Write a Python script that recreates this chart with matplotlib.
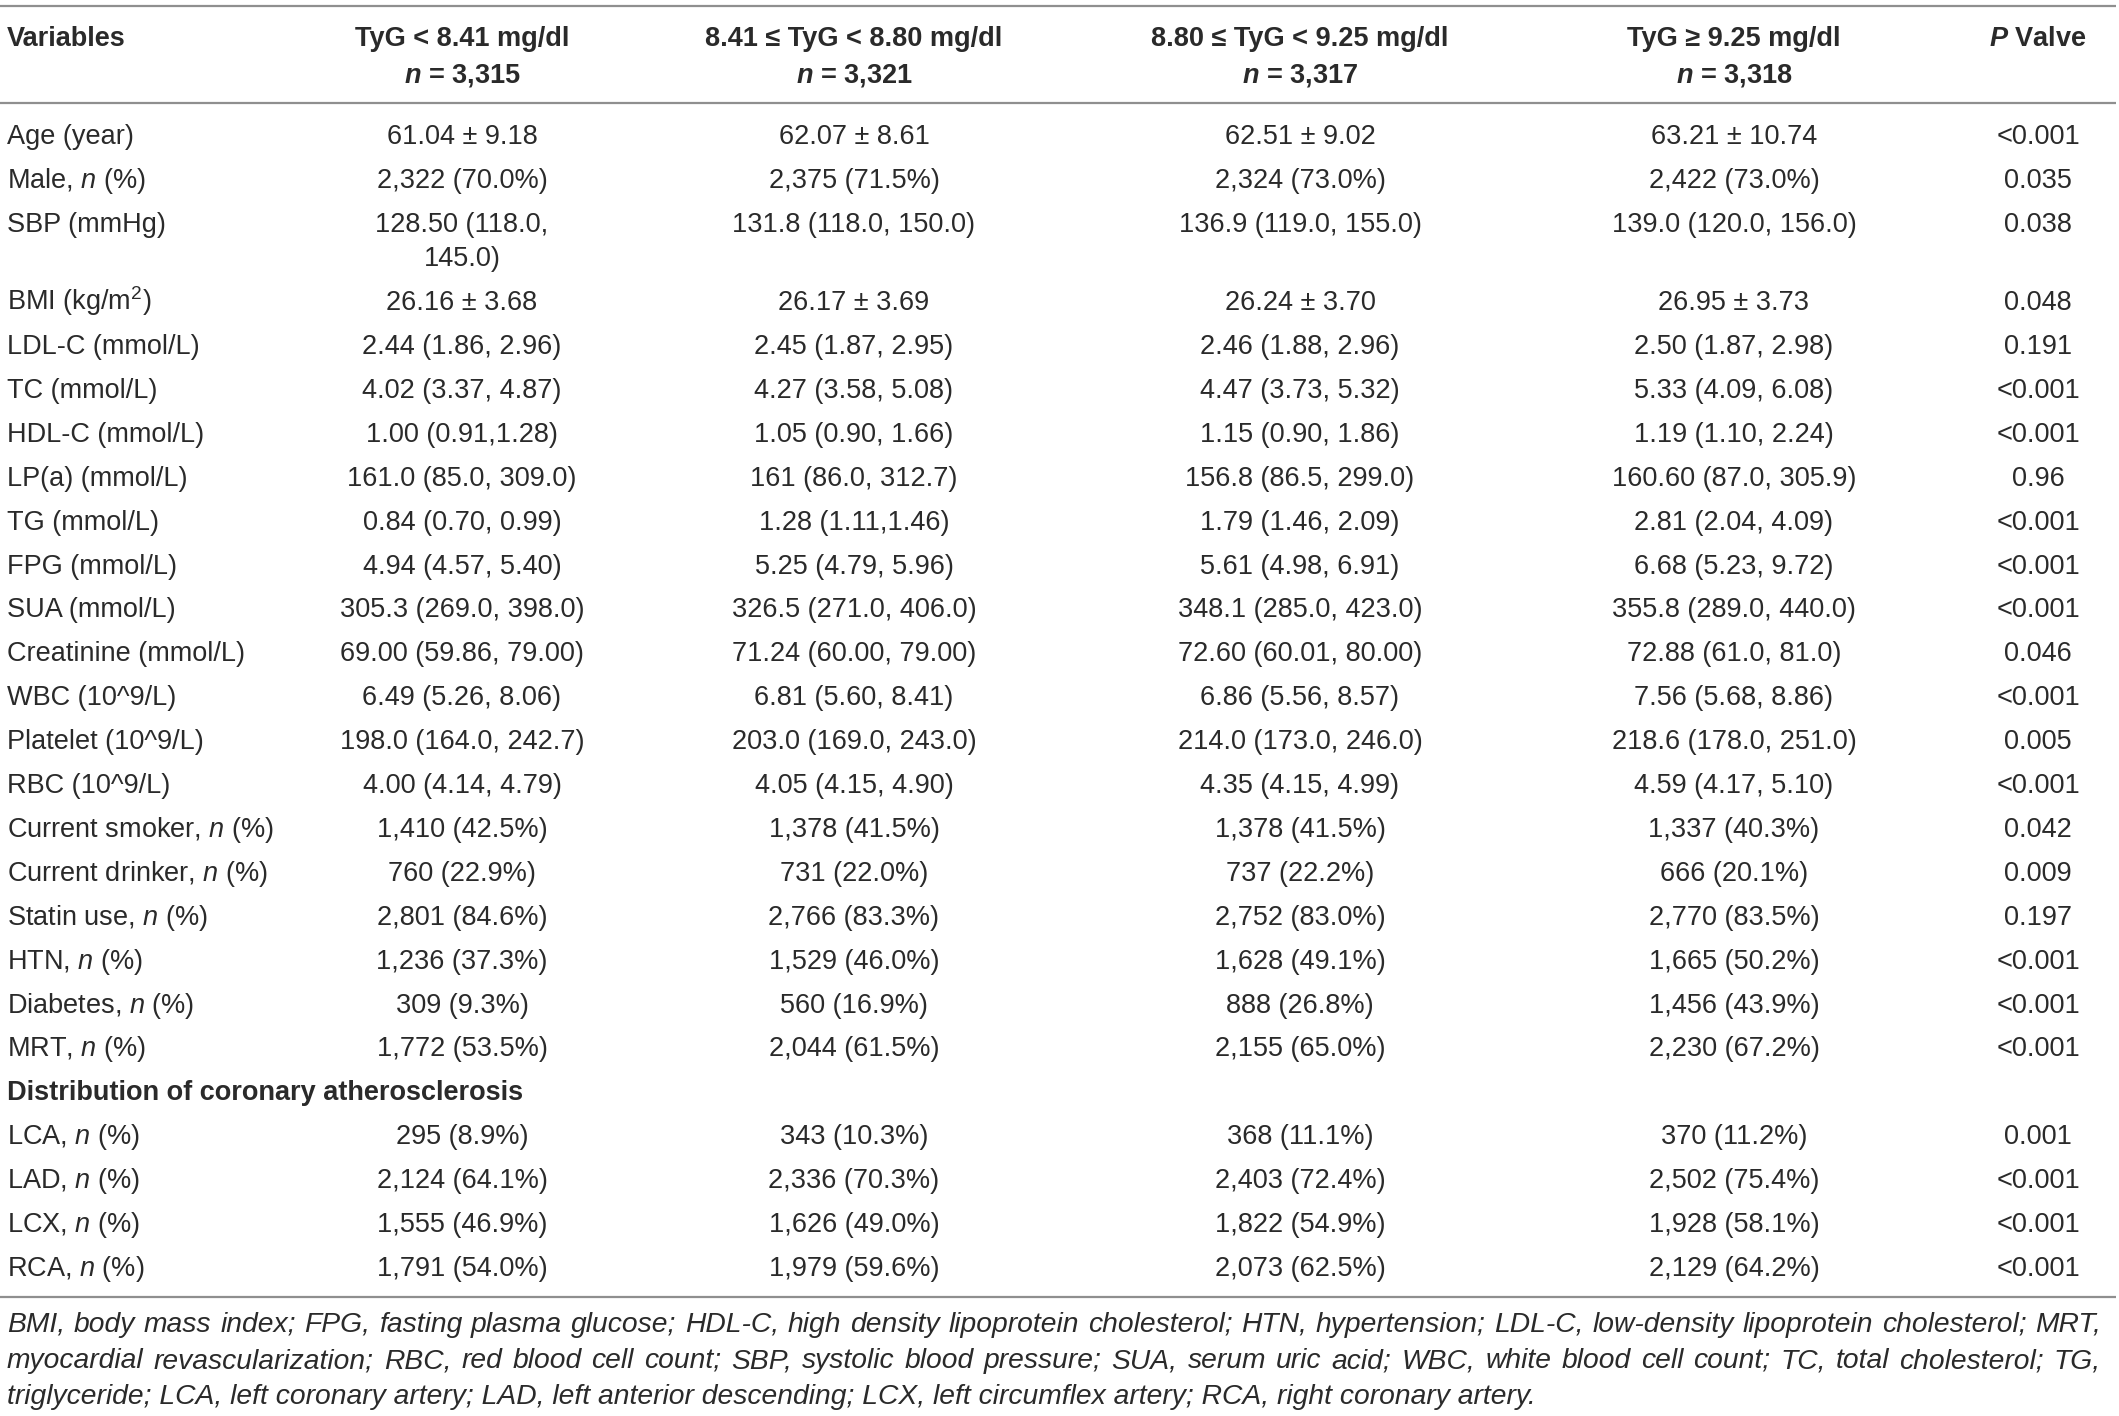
import matplotlib
matplotlib.use("Agg")
import matplotlib.pyplot as plt

plt.rcParams['font.family'] = ['Liberation Sans', 'DejaVu Sans']
plt.rcParams['mathtext.fontset'] = 'custom'
plt.rcParams['mathtext.rm'] = 'Liberation Sans'
plt.rcParams['mathtext.it'] = 'Liberation Sans:italic'
plt.rcParams['mathtext.bf'] = 'Liberation Sans:bold'
try:
    plt.rcParams['mathtext.bfit'] = 'Liberation Sans:italic:bold'
except KeyError:
    pass

# table content
headers = ["Variables", "TyG < 8.41 mg/dl", "8.41 ≤ TyG < 8.80 mg/dl",
           "8.80 ≤ TyG < 9.25 mg/dl", "TyG ≥ 9.25 mg/dl", r"$\mathbfit{P}$ Valve"]
group_n = ["3,315", "3,321", "3,317", "3,318"]

variables = ["Age (year)", r"Male, $\mathit{n}$ (%)", "SBP (mmHg)", r"BMI (kg/m$^{2}$)",
             "LDL-C (mmol/L)", "TC (mmol/L)", "HDL-C (mmol/L)", "LP(a) (mmol/L)",
             "TG (mmol/L)", "FPG (mmol/L)", "SUA (mmol/L)", "Creatinine (mmol/L)",
             "WBC (10^9/L)", "Platelet (10^9/L)", "RBC (10^9/L)",
             r"Current smoker, $\mathit{n}$ (%)", r"Current drinker, $\mathit{n}$ (%)",
             r"Statin use, $\mathit{n}$ (%)", r"HTN, $\mathit{n}$ (%)",
             r"Diabetes, $\mathit{n}$ (%)", r"MRT, $\mathit{n}$ (%)"]
section_title = "Distribution of coronary atherosclerosis"
section_vars = [r"LCA, $\mathit{n}$ (%)", r"LAD, $\mathit{n}$ (%)",
                r"LCX, $\mathit{n}$ (%)", r"RCA, $\mathit{n}$ (%)"]

tyg_q1 = ["61.04 ± 9.18", "2,322 (70.0%)", "128.50 (118.0,\n145.0)", "26.16 ± 3.68",
          "2.44 (1.86, 2.96)", "4.02 (3.37, 4.87)", "1.00 (0.91,1.28)", "161.0 (85.0, 309.0)",
          "0.84 (0.70, 0.99)", "4.94 (4.57, 5.40)", "305.3 (269.0, 398.0)",
          "69.00 (59.86, 79.00)", "6.49 (5.26, 8.06)", "198.0 (164.0, 242.7)",
          "4.00 (4.14, 4.79)", "1,410 (42.5%)", "760 (22.9%)", "2,801 (84.6%)",
          "1,236 (37.3%)", "309 (9.3%)", "1,772 (53.5%)",
          "295 (8.9%)", "2,124 (64.1%)", "1,555 (46.9%)", "1,791 (54.0%)"]
tyg_q2 = ["62.07 ± 8.61", "2,375 (71.5%)", "131.8 (118.0, 150.0)", "26.17 ± 3.69",
          "2.45 (1.87, 2.95)", "4.27 (3.58, 5.08)", "1.05 (0.90, 1.66)", "161 (86.0, 312.7)",
          "1.28 (1.11,1.46)", "5.25 (4.79, 5.96)", "326.5 (271.0, 406.0)",
          "71.24 (60.00, 79.00)", "6.81 (5.60, 8.41)", "203.0 (169.0, 243.0)",
          "4.05 (4.15, 4.90)", "1,378 (41.5%)", "731 (22.0%)", "2,766 (83.3%)",
          "1,529 (46.0%)", "560 (16.9%)", "2,044 (61.5%)",
          "343 (10.3%)", "2,336 (70.3%)", "1,626 (49.0%)", "1,979 (59.6%)"]
tyg_q3 = ["62.51 ± 9.02", "2,324 (73.0%)", "136.9 (119.0, 155.0)", "26.24 ± 3.70",
          "2.46 (1.88, 2.96)", "4.47 (3.73, 5.32)", "1.15 (0.90, 1.86)", "156.8 (86.5, 299.0)",
          "1.79 (1.46, 2.09)", "5.61 (4.98, 6.91)", "348.1 (285.0, 423.0)",
          "72.60 (60.01, 80.00)", "6.86 (5.56, 8.57)", "214.0 (173.0, 246.0)",
          "4.35 (4.15, 4.99)", "1,378 (41.5%)", "737 (22.2%)", "2,752 (83.0%)",
          "1,628 (49.1%)", "888 (26.8%)", "2,155 (65.0%)",
          "368 (11.1%)", "2,403 (72.4%)", "1,822 (54.9%)", "2,073 (62.5%)"]
tyg_q4 = ["63.21 ± 10.74", "2,422 (73.0%)", "139.0 (120.0, 156.0)", "26.95 ± 3.73",
          "2.50 (1.87, 2.98)", "5.33 (4.09, 6.08)", "1.19 (1.10, 2.24)", "160.60 (87.0, 305.9)",
          "2.81 (2.04, 4.09)", "6.68 (5.23, 9.72)", "355.8 (289.0, 440.0)",
          "72.88 (61.0, 81.0)", "7.56 (5.68, 8.86)", "218.6 (178.0, 251.0)",
          "4.59 (4.17, 5.10)", "1,337 (40.3%)", "666 (20.1%)", "2,770 (83.5%)",
          "1,665 (50.2%)", "1,456 (43.9%)", "2,230 (67.2%)",
          "370 (11.2%)", "2,502 (75.4%)", "1,928 (58.1%)", "2,129 (64.2%)"]
p_values = ["<0.001", "0.035", "0.038", "0.048", "0.191", "<0.001", "<0.001", "0.96",
            "<0.001", "<0.001", "<0.001", "0.046", "<0.001", "0.005", "<0.001", "0.042",
            "0.009", "0.197", "<0.001", "<0.001", "<0.001",
            "0.001", "<0.001", "<0.001", "<0.001"]

footnote = ["BMI, body mass index; FPG, fasting plasma glucose; HDL-C, high density lipoprotein cholesterol; "
            "HTN, hypertension; LDL-C, low-density lipoprotein cholesterol; MRT,",
            "myocardial revascularization; RBC, red blood cell count; SBP, systolic blood pressure; "
            "SUA, serum uric acid; WBC, white blood cell count; TC, total cholesterol; TG,",
            "triglyceride; LCA, left coronary artery; LAD, left anterior descending; "
            "LCX, left circumflex artery; RCA, right coronary artery."]

# layout (pixel coordinates)
W, H = 2119, 1416
TXT = '#2a2a2a'
RULE = '#8f8f8f'
FS = 19.5
col_x = [7, 462, 854, 1300, 1734, 2038]
row_h = 43.9
wrap_h = 34.5
note_left, note_right = 7, 2101

fig = plt.figure(figsize=(W / 100, H / 100), dpi=100)
ax = fig.add_axes([0, 0, 1, 1])
ax.set_xlim(0, W)
ax.set_ylim(H, 0)
ax.axis('off')
renderer = fig.canvas.get_renderer()


def put(x, yc, s, ha='center', **kw):
    # yc is visual middle of the caps, convert to baseline
    return ax.text(x, yc + 9.5, s, ha=ha, va='baseline', fontsize=kw.pop('fontsize', FS),
                   color=TXT, **kw)


for y in [6, 103, 1297]:
    ax.plot([0, W - 3], [y, y], color=RULE, lw=1.6, solid_capstyle='butt')

# header
put(col_x[0], 37, headers[0], ha='left', fontweight='bold')
for i in range(1, 5):
    put(col_x[i], 37, headers[i], fontweight='bold')
    put(col_x[i], 73, r"$\mathbfit{n}$ = " + group_n[i - 1], fontweight='bold')
put(col_x[5], 37, headers[5], fontweight='bold')

# body rows
rows = variables + [None] + section_vars
cols = [tyg_q1, tyg_q2, tyg_q3, tyg_q4, p_values]
y = 134.5
k = 0
for label in rows:
    if label is None:
        put(col_x[0], y, section_title, ha='left', fontweight='bold')
        y += row_h
        continue
    put(col_x[0], y, label, ha='left')
    nlines = 1
    for c, vals in enumerate(cols):
        parts = vals[k].split('\n')
        nlines = max(nlines, len(parts))
        for j, part in enumerate(parts):
            put(col_x[c + 1], y + j * wrap_h, part)
    y += row_h + (nlines - 1) * wrap_h
    k += 1

# footnote: lines 1-2 justified to the table width
note_fs = 20.3
for i, line in enumerate(footnote):
    yc = 1322 + i * 36.5
    if i == len(footnote) - 1:
        put(note_left, yc, line, ha='left', style='italic', fontsize=note_fs)
        continue
    words = line.split(' ')
    texts = [put(note_left, yc, w, ha='left', style='italic', fontsize=note_fs) for w in words]
    widths = [t.get_window_extent(renderer).width for t in texts]
    gap = (note_right - note_left - sum(widths)) / (len(words) - 1)
    x = note_left
    for t, w in zip(texts, widths):
        t.set_x(x)
        x += w + gap

fig.savefig('out.png', dpi=100)
